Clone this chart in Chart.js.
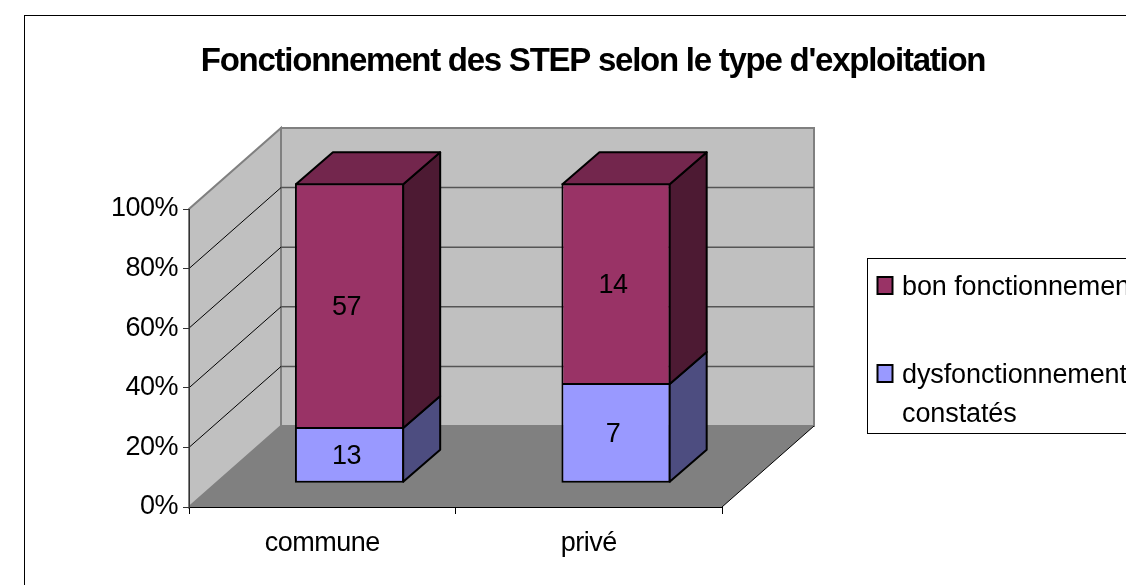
<!DOCTYPE html>
<html>
<head>
<meta charset="utf-8">
<title>Fonctionnement des STEP</title>
<script src="https://cdn.jsdelivr.net/npm/chart.js@4/dist/chart.umd.min.js"></script>
<style>
html, body { margin: 0; padding: 0; background: #fff; overflow: hidden; }
canvas { display: block; }
</style>
</head>
<body>
<canvas id="stepChart" width="1126" height="585"></canvas>
<script>
var categories = ['commune', 'privé'];
var seriesNames = ['dysfonctionnements constatés', 'bon fonctionnement'];
var dysfonctionnements = [13, 7];
var bonFonctionnement = [57, 14];
var percentTicks = [0, 20, 40, 60, 80, 100];

var fontFamily = '"Liberation Sans", Arial, sans-serif';
var textSpacing = '-0.5px';
var colors = {
    dys: '#9999ff', dysSide: '#4d4d80', dysTop: '#73739f',
    bon: '#993366', bonSide: '#4d1a33', bonTop: '#73264d',
    wall: '#c0c0c0', wallEdge: '#808080', floor: '#808080'
};

function toPercent(values, other) {
    return values.map(function (v, i) { return v / (v + other[i]) * 100; });
}

function backY(pct, y0) {
    return y0 - 81 - pct * 2.98;
}

function poly(ctx, pts, fill, stroke, lw) {
    ctx.beginPath();
    pts.forEach(function (p, i) {
        if (i === 0) ctx.moveTo(p[0], p[1]); else ctx.lineTo(p[0], p[1]);
    });
    ctx.closePath();
    if (fill) { ctx.fillStyle = fill; ctx.fill(); }
    if (stroke) { ctx.strokeStyle = stroke; ctx.lineWidth = lw; ctx.stroke(); }
}

var BAR_DX = 27.3, DEPTH_X = 92, BAR_DEPTH_X = 37, BAR_DEPTH_Y = -32;

var scene3d = {
    id: 'scene3d',
    afterLayout: function (chart) {
        // title is centred over the whole frame, not over the plot
        var t = chart.titleBlock;
        t.left = 0;
        t.right = 1186;
        if (!t.spacingSet) {
            var drawTitle = t.draw;
            t.draw = function () {
                chart.ctx.letterSpacing = '-1.25px';
                drawTitle.call(t);
                chart.ctx.letterSpacing = textSpacing;
            };
            t.spacingSet = true;
        }
    },
    beforeDraw: function (chart) {
        var ctx = chart.ctx;
        var x = chart.scales.x, y = chart.scales.y;
        var l = x.left, r = x.right, y0 = y.getPixelForValue(0), y100 = y.getPixelForValue(100);
        var bl = l + DEPTH_X, br = r + DEPTH_X, bb = backY(0, y0), bt = backY(100, y0);

        ctx.save();
        ctx.fillStyle = '#fff';
        ctx.fillRect(0, 0, chart.width, chart.height);
        ctx.strokeStyle = '#000';
        ctx.lineWidth = 1;
        ctx.strokeRect(24.5, 15.5, 2000, 2000);

        poly(ctx, [[l, y0], [r, y0], [br, bb], [bl, bb]], colors.floor, null);
        poly(ctx, [[l, y0], [l, y100], [bl, bt], [bl, bb]], colors.wall, colors.wallEdge, 2);
        poly(ctx, [[bl, bt], [br, bt], [br, bb], [bl, bb]], colors.wall, colors.wallEdge, 2);

        percentTicks.forEach(function (p) {
            if (p === 0 || p === 100) return;
            var fy = y.getPixelForValue(p), by = backY(p, y0);
            ctx.strokeStyle = '#000';
            ctx.lineWidth = 1;
            ctx.beginPath();
            ctx.moveTo(l, fy);
            ctx.lineTo(bl, by);
            ctx.stroke();
            ctx.strokeStyle = '#555';
            ctx.lineWidth = 1.5;
            ctx.beginPath();
            ctx.moveTo(bl, by);
            ctx.lineTo(br, by);
            ctx.stroke();
        });
        // floor edge on the right
        ctx.strokeStyle = '#000';
        ctx.lineWidth = 1;
        ctx.beginPath();
        ctx.moveTo(r, y0);
        ctx.lineTo(br, bb);
        ctx.stroke();
        ctx.restore();
        ctx.letterSpacing = textSpacing;
    },
    beforeDatasetsDraw: function (chart) {
        chart.ctx.save();
        chart.ctx.translate(BAR_DX, 0);
    },
    afterDatasetsDraw: function (chart) {
        var ctx = chart.ctx;
        var last = chart.data.datasets.length - 1;
        ctx.lineJoin = 'round';
        chart.data.datasets.forEach(function (ds, di) {
            chart.getDatasetMeta(di).data.forEach(function (bar) {
                var p = bar.getProps(['x', 'y', 'base', 'width']);
                // the bar border sits inside the element, follow its centre line
                var right = p.x + p.width / 2 - 1, left = p.x - p.width / 2 + 1;
                var top = p.y + 1, bottom = di === last ? p.base + 1 : p.base - 1;
                poly(ctx, [[right, top], [right + BAR_DEPTH_X, top + BAR_DEPTH_Y],
                    [right + BAR_DEPTH_X, bottom + BAR_DEPTH_Y], [right, bottom]], ds.sideColor, '#000', 2);
                if (di === last) {
                    poly(ctx, [[left, top], [left + BAR_DEPTH_X, top + BAR_DEPTH_Y],
                        [right + BAR_DEPTH_X, top + BAR_DEPTH_Y], [right, top]], ds.topColor, '#000', 2);
                }
            });
        });
        // value labels
        ctx.fillStyle = '#000';
        ctx.font = '27px ' + fontFamily;
        ctx.textAlign = 'center';
        ctx.textBaseline = 'middle';
        chart.data.datasets.forEach(function (ds, di) {
            chart.getDatasetMeta(di).data.forEach(function (bar, i) {
                var p = bar.getProps(['x', 'y', 'base']);
                ctx.fillText(String(ds.counts[i]), p.x - 3, (p.y + p.base) / 2 + 2);
            });
        });
        ctx.restore();
        drawLegend(chart);
    }
};

function drawLegend(chart) {
    var ctx = chart.ctx;
    ctx.save();
    ctx.strokeStyle = '#000';
    ctx.lineWidth = 1;
    ctx.fillStyle = '#fff';
    ctx.fillRect(867.5, 258.5, 400, 175);
    ctx.strokeRect(867.5, 258.5, 400, 175);
    var rows = [
        { ds: chart.data.datasets[1], boxY: 277, lines: [seriesNames[1]], baseline: 295 },
        { ds: chart.data.datasets[0], boxY: 365, lines: ['dysfonctionnements', 'constatés'], baseline: 383 }
    ];
    ctx.font = '27px ' + fontFamily;
    ctx.letterSpacing = '-0.1px';
    ctx.textAlign = 'left';
    ctx.textBaseline = 'alphabetic';
    rows.forEach(function (row) {
        ctx.fillStyle = row.ds.backgroundColor;
        ctx.fillRect(877.5, row.boxY, 15, 17);
        ctx.strokeStyle = '#000';
        ctx.lineWidth = 2;
        ctx.strokeRect(877.5, row.boxY, 15, 17);
        ctx.fillStyle = '#000';
        row.lines.forEach(function (line, i) {
            ctx.fillText(line, 902, row.baseline + i * 39);
        });
    });
    ctx.restore();
    ctx.letterSpacing = textSpacing;
}

new Chart(document.getElementById('stepChart').getContext('2d'), {
    type: 'bar',
    plugins: [scene3d],
    data: {
        labels: categories,
        datasets: [{
            label: seriesNames[0],
            counts: dysfonctionnements,
            data: toPercent(dysfonctionnements, bonFonctionnement),
            backgroundColor: colors.dys,
            sideColor: colors.dysSide,
            topColor: colors.dysTop,
            borderColor: '#000',
            borderWidth: 2,
            borderSkipped: false,
            yAxisID: 'yBars',
            clip: false
        }, {
            label: seriesNames[1],
            counts: bonFonctionnement,
            data: toPercent(bonFonctionnement, dysfonctionnements),
            backgroundColor: colors.bon,
            sideColor: colors.bonSide,
            topColor: colors.bonTop,
            borderColor: '#000',
            borderWidth: 2,
            borderSkipped: 'start',
            yAxisID: 'yBars',
            clip: false
        }]
    },
    options: {
        responsive: false,
        animation: false,
        barPercentage: 0.41,
        categoryPercentage: 1,
        layout: { padding: { left: 79, right: 404, top: 0, bottom: 28 } },
        plugins: {
            legend: { display: false },
            tooltip: { enabled: false },
            title: {
                display: true,
                text: "Fonctionnement des STEP selon le type d'exploitation",
                color: '#000',
                font: { family: fontFamily, size: 33, weight: 'bold', lineHeight: '40px' },
                padding: { top: 42, bottom: 127 }
            }
        },
        scales: {
            x: {
                stacked: true,
                afterFit: function (s) { s.height = 50; },
                border: { color: '#000', width: 1 },
                grid: { drawOnChartArea: false, tickLength: 7, tickColor: '#000' },
                ticks: { color: '#000', padding: 13, font: { family: fontFamily, size: 27 }, maxRotation: 0 }
            },
            y: {
                min: 0,
                max: 100,
                afterFit: function (s) { s.width = 110; },
                afterBuildTicks: function (s) { s.ticks = percentTicks.map(function (v) { return { value: v }; }); },
                border: { color: '#333', width: 1 },
                grid: { drawOnChartArea: false, tickLength: 6, tickColor: '#333' },
                ticks: {
                    color: '#000', padding: 5, font: { family: fontFamily, size: 27 },
                    callback: function (v) { return v + '%'; }
                }
            },
            yBars: {
                display: false,
                stacked: true,
                min: -8.12,
                max: 91.41
            }
        }
    }
});
</script>
</body>
</html>
